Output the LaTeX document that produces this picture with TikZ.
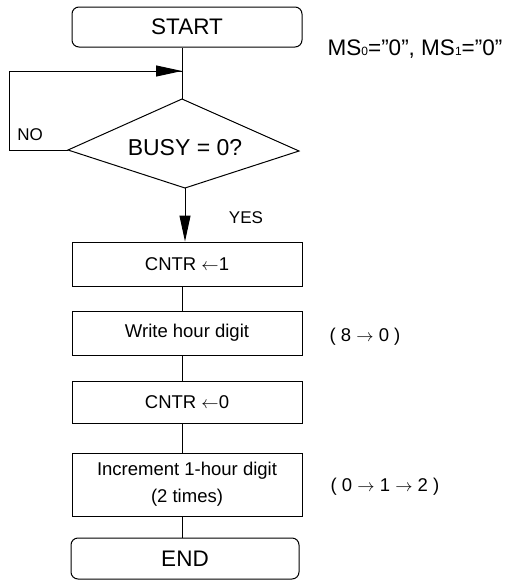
\documentclass[tikz,border=0pt]{standalone}
\usepackage{fontspec}
\setmainfont{Liberation Sans}
\usetikzlibrary{shapes.geometric,arrows.meta,calc}
\newcommand{\myq}{\char34\relax}
\begin{document}
\begin{tikzpicture}[x=1pt,y=-1pt,line width=1pt,
  term/.style={draw,rounded corners=7pt,minimum width=230pt,minimum height=40pt,inner sep=0pt,font=\fontsize{22.5}{24}\selectfont},
  proc/.style={draw,minimum width=230pt,inner sep=0pt,font=\fontsize{18.5}{27}\selectfont,align=center},
  lbl/.style={inner sep=0pt,font=\fontsize{17}{18}\selectfont},
  note/.style={inner sep=0pt,font=\fontsize{18.5}{20}\selectfont},
  arr/.style={-{Triangle[length=26pt,width=11pt]}}]
\useasboundingbox (0,0) rectangle (517,581);
\coordinate (ax) at (182,0);
\node[term] (start) at (187,27) {START};
\coordinate (dt) at (182,99);
\coordinate (dr) at (299,151);
\coordinate (db) at (185,188);
\coordinate (dl) at (68,150);
\draw (dt) -- (dr) -- (db) -- (dl) -- cycle;
\node[inner sep=0pt,font=\fontsize{23}{24}\selectfont] (diat) at (185,148) {BUSY = 0?};
\node[proc,minimum height=44pt] (b1) at (187,264) {CNTR $\leftarrow$1};
\node[proc,minimum height=44pt] (b2) at (187,333) {Write hour digit};
\node[proc,minimum height=42pt] (b3) at (187,402) {CNTR $\leftarrow$0};
\node[proc,minimum height=63pt] (b4) at (187,484.5) {Increment 1-hour digit\\(2 times)};
\node[term,minimum width=228pt,minimum height=41pt] (end) at (185,558.5) {END};
\coordinate (lt) at (9,71);
\coordinate (lb) at (9,150);
\coordinate (join) at (182,71);
\node[lbl] (no) at (30,135) {NO};
\node[lbl] (yes) at (246,218) {YES};
\node[inner sep=0pt,font=\fontsize{22.5}{24}\selectfont] (ms) at (415,49) {MS{\fontsize{12}{12}\selectfont 0}=\myq0\myq, MS{\fontsize{12}{12}\selectfont 1}=\myq0\myq};
\node[note] (n1) at (365,337) {( 8 $\rightarrow$ 0 )};
\node[note] (n2) at (385,487) {( 0 $\rightarrow$ 1 $\rightarrow$ 2 )};
\draw (start.south -| ax) -- (dt);
\draw (dl) -- (lb) -- (lt) -- (join);
\draw[arr] (lt) -- (join);
\draw[arr] (db) -- (b1.north -| db);
\draw (b1.south -| ax) -- (b2.north -| ax);
\draw (b2.south -| ax) -- (b3.north -| ax);
\draw (b3.south -| ax) -- (b4.north -| ax);
\draw (b4.south -| ax) -- (end.north -| ax);
\end{tikzpicture}
\end{document}
